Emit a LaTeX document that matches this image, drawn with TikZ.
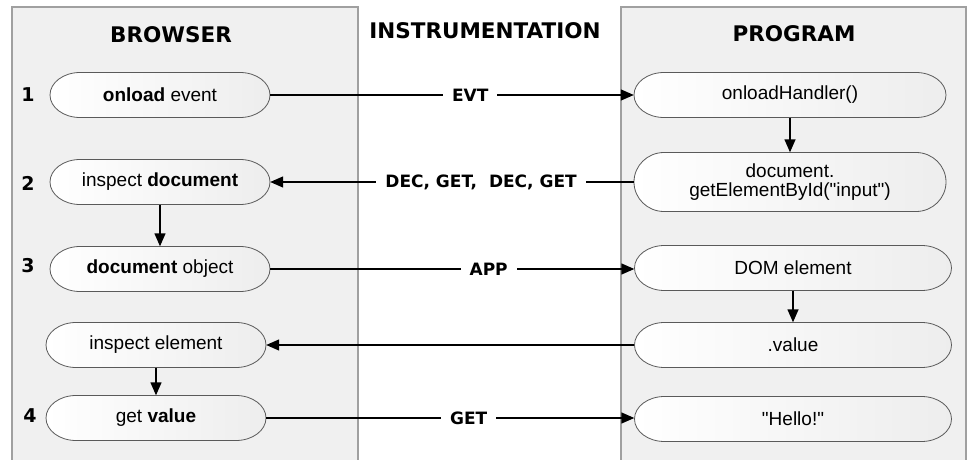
\documentclass[tikz,border=0pt]{standalone}
\usepackage{fontspec}
\setmainfont{Liberation Sans}[Ligatures=TeXOff]
\newfontfamily\verd{DejaVu Sans}
\usetikzlibrary{arrows.meta}
\definecolor{panelfill}{RGB}{240,240,240}
\definecolor{panelline}{RGB}{160,160,160}
\definecolor{nodeline}{RGB}{90,90,90}
\tikzset{
  x=1pt, y=-1pt,
  panel/.style={fill=panelfill, draw=panelline, line width=1.4pt},
  head/.style={font=\verd\bfseries\fontsize{21.5}{24}\selectfont, inner sep=0pt},
  num/.style={font=\verd\bfseries\fontsize{19}{22}\selectfont, inner sep=0pt},
  pillbg/.style={draw=nodeline, line width=0.8pt, left color=white, right color=black!7},
  pilltext/.style={inner sep=0pt, align=center, font=\fontsize{19}{22}\selectfont},
  conn/.style={line width=1.4pt, -{Triangle[length=13pt,width=11pt]}},
  lab/.style={fill=white, inner xsep=9pt, inner ysep=2pt, font=\verd\bfseries\fontsize{17}{20}\selectfont},
}
% #1 name, #2 x, #3 y, #4 width, #5 height, #6 text
\newcommand\mypill[6]{%
  \begin{scope}[shift={(#2,#3)}]
    \path[pillbg] ({-#4/2+30},{-#5/2}) -- ({#4/2-30},{-#5/2})
      arc[start angle=-90, end angle=90, x radius=30, y radius={#5/2}]
      -- ({-#4/2+30},{#5/2})
      arc[start angle=90, end angle=270, x radius=30, y radius={#5/2}] -- cycle;
  \end{scope}
  \node[pilltext, minimum width=#4pt, minimum height=#5pt] (#1) at (#2,#3) {#6};%
}
\begin{document}
\begin{tikzpicture}
\useasboundingbox (0,0) rectangle (970,460);
% panels
\draw[panel] (12,475) -- (12,7) -- (358,7) -- (358,475);
\draw[panel] (621,475) -- (621,7) -- (966,7) -- (966,475);
% headers
\node[head] (hb) at (171,35) {BROWSER};
\node[head] (hi) at (485,31) {INSTRUMENTATION};
\node[head] (hp) at (794,34) {PROGRAM};
% numbers
\node[num] (k1) at (28,95) {1};
\node[num] (k2) at (28,183) {2};
\node[num] (k3) at (28,266) {3};
\node[num] (k4) at (30,416) {4};
% browser nodes
\mypill{b1}{160}{95}{220}{45}{\textbf{onload} event}
\mypill{b2}{160}{182}{220}{45}{inspect \textbf{document}}
\mypill{b3}{160}{269}{220}{45}{\textbf{document} object}
\mypill{b4}{156}{345}{220}{45}{inspect element}
\mypill{b5}{156}{418}{220}{45}{get \textbf{value}}
% program nodes
\mypill{p1}{790}{95}{312}{45}{onloadHandler()}
\mypill{p2}{790}{182}{312}{59}{document.\\[-3pt]getElementById("input")}
\mypill{p3}{793}{268}{317}{45}{DOM element}
\mypill{p4}{793}{345}{317}{45}{.value}
\mypill{p5}{793}{419}{317}{45}{"Hello!"}
% vertical arrows
\draw[conn] (b2.south) -- (b3.north);
\draw[conn] (b4.south) -- (b5.north);
\draw[conn] (p1.south) -- (p2.north);
\draw[conn] (p3.south) -- (p4.north);
% horizontal arrows
\draw[conn] (b1.east) -- node[lab, pos=0.55] {EVT} (b1.east -| p1.west);
\draw[conn] (p2.west) -- node[lab, pos=0.42] {DEC, GET,\ \ DEC, GET} (p2.west -| b2.east);
\draw[conn] (b3.east) -- node[lab, pos=0.6] {APP} (b3.east -| p3.west);
\draw[conn] (p4.west) -- (p4.west -| b4.east);
\draw[conn] (b5.east) -- node[lab, pos=0.55] {GET} (b5.east -| p5.west);
\end{tikzpicture}
\end{document}
